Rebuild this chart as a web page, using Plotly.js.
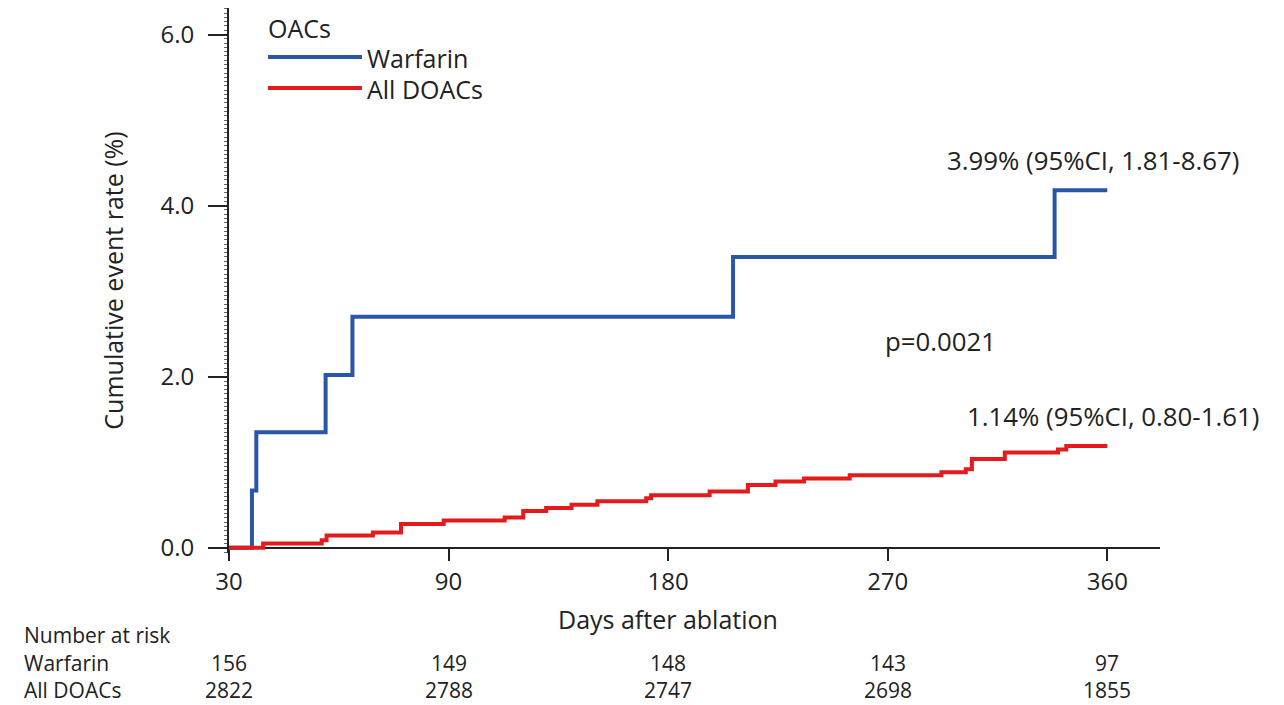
<!DOCTYPE html>
<html>
<head>
<meta charset="utf-8">
<script src="https://cdn.plot.ly/plotly-3.0.1.min.js"></script>
<style>
  html, body { margin: 0; padding: 0; background: #ffffff; }
  #chart { width: 1284px; height: 705px; }
</style>
</head>
<body>
<div id="chart"></div>
<script>
// ---- Data ----
// x positions are on the plotted day scale (first tick labelled "30")
const warfarinDays = [0, 9.4, 11.2, 39.6, 50.6, 206.6, 338.4, 360];
const warfarinRate = [0, 0.67, 1.35, 2.02, 2.70, 3.40, 4.18, 4.18];

const doacDays = [0, 14, 38, 40, 59, 70.5, 88, 113, 120.6, 130, 140.4, 151, 171, 173, 197, 212.7, 224, 235.7, 254.4, 292, 302, 304.5, 318, 339.8, 343.2, 360];
const doacRate = [0, 0.05, 0.09, 0.145, 0.18, 0.28, 0.32, 0.355, 0.43, 0.465, 0.505, 0.545, 0.58, 0.615, 0.66, 0.735, 0.775, 0.81, 0.85, 0.885, 0.92, 1.04, 1.115, 1.15, 1.19, 1.19];

const xTickVals = [0, 90, 180, 270, 360];
const xTickText = ['30', '90', '180', '270', '360'];
const yTickVals = [0, 2, 4, 6];
const yTickText = ['0.0', '2.0', '4.0', '6.0'];

const seriesNames = ['Warfarin', 'All DOACs'];
const seriesColors = ['#2A56A6', '#E41A1C'];
const riskWarfarin = [156, 149, 148, 143, 97];
const riskDoac = [2822, 2788, 2747, 2698, 1855];

const legendTitle = 'OACs';
const warfarinLabel = '3.99% (95%CI, 1.81-8.67)';
const doacLabel = '1.14% (95%CI, 0.80-1.61)';
const pLabel = 'p=0.0021';

// ---- Layout geometry ----
const FONT = '"Open Sans", "DejaVu Sans", sans-serif';
const TXT = '#222222';
const L = 229, R = 124, T = 8, B = 152;
const W = 1284 - L - R, H = 705 - T - B;
const yMin = -0.06, yMax = 6.31;
const xMin = 0, xMax = 381.6;
const px = v => (v - L) / W;          // pixel -> paper x
const py = v => (T + H - v) / H;      // pixel -> paper y

const traces = [
  {
    x: warfarinDays, y: warfarinRate, name: seriesNames[0],
    type: 'scatter', mode: 'lines', line: { shape: 'hv', color: seriesColors[0], width: 4 },
    hoverinfo: 'skip'
  },
  {
    x: doacDays, y: doacRate, name: seriesNames[1],
    type: 'scatter', mode: 'lines', line: { shape: 'hv', color: seriesColors[1], width: 4 },
    hoverinfo: 'skip'
  }
];

const ann = [];
function txt(text, x, y, xref, yref, xanchor, size) {
  ann.push({ text, x, y, xref, yref, xanchor, yanchor: 'middle', showarrow: false, borderpad: 0,
             font: { family: FONT, size, color: TXT } });
}
// legend texts
txt(legendTitle, px(267), py(28), 'paper', 'paper', 'left', 25);
txt(seriesNames[0], px(366), py(58), 'paper', 'paper', 'left', 25);
txt(seriesNames[1], px(366), py(89), 'paper', 'paper', 'left', 25);
// in-plot labels
txt(warfarinLabel, px(946), py(160), 'paper', 'paper', 'left', 25.8);
txt(pLabel, px(884), py(341), 'paper', 'paper', 'left', 25.8);
txt(doacLabel, px(966), py(416), 'paper', 'paper', 'left', 25.8);
// x axis title centred under the tick range
txt('Days after ablation', 180, py(619), 'x', 'paper', 'center', 25);
// number at risk table
txt('Number at risk', px(23), py(635), 'paper', 'paper', 'left', 21);
txt(seriesNames[0], px(23), py(663), 'paper', 'paper', 'left', 21);
txt(seriesNames[1], px(23), py(690), 'paper', 'paper', 'left', 21);
xTickVals.forEach((v, i) => {
  txt(String(riskWarfarin[i]), v, py(663), 'x', 'paper', 'center', 21);
  txt(String(riskDoac[i]), v, py(690), 'x', 'paper', 'center', 21);
});

const shapes = [
  { type: 'line', xref: 'paper', yref: 'paper', x0: px(268), x1: px(362), y0: py(57), y1: py(57),
    line: { color: seriesColors[0], width: 4 } },
  { type: 'line', xref: 'paper', yref: 'paper', x0: px(268), x1: px(362), y0: py(88), y1: py(88),
    line: { color: seriesColors[1], width: 4 } }
];

const layout = {
  width: 1284, height: 705,
  margin: { l: L, r: R, t: T, b: B, pad: 0 },
  paper_bgcolor: '#ffffff', plot_bgcolor: '#ffffff',
  showlegend: false,
  font: { family: FONT, size: 24, color: TXT },
  xaxis: {
    range: [xMin, xMax], anchor: 'free', position: (0 - yMin) / (yMax - yMin),
    showgrid: false, zeroline: false, showline: true, linewidth: 2, linecolor: '#222',
    ticks: 'outside', ticklen: 12, tickwidth: 2, tickcolor: '#222',
    tickvals: xTickVals, ticktext: xTickText,
    tickfont: { family: FONT, size: 24, color: TXT },
    layer: 'below traces', fixedrange: true
  },
  yaxis: {
    range: [yMin, yMax],
    showgrid: false, zeroline: false, showline: true, linewidth: 2, linecolor: '#222',
    ticks: 'outside', ticklen: 19, tickwidth: 2, tickcolor: '#222',
    tickvals: yTickVals, ticktext: yTickText,
    tickfont: { family: FONT, size: 24, color: TXT },
    ticklabelstandoff: 9,
    minor: { dtick: 0.05, ticks: 'outside', ticklen: 3, tickwidth: 1, tickcolor: '#666' },
    title: { text: 'Cumulative event rate (%)', standoff: 30, font: { family: FONT, size: 25, color: TXT } },
    fixedrange: true
  },
  annotations: ann,
  shapes: shapes
};

Plotly.newPlot('chart', traces, layout, { displayModeBar: false, staticPlot: true });
</script>
</body>
</html>
